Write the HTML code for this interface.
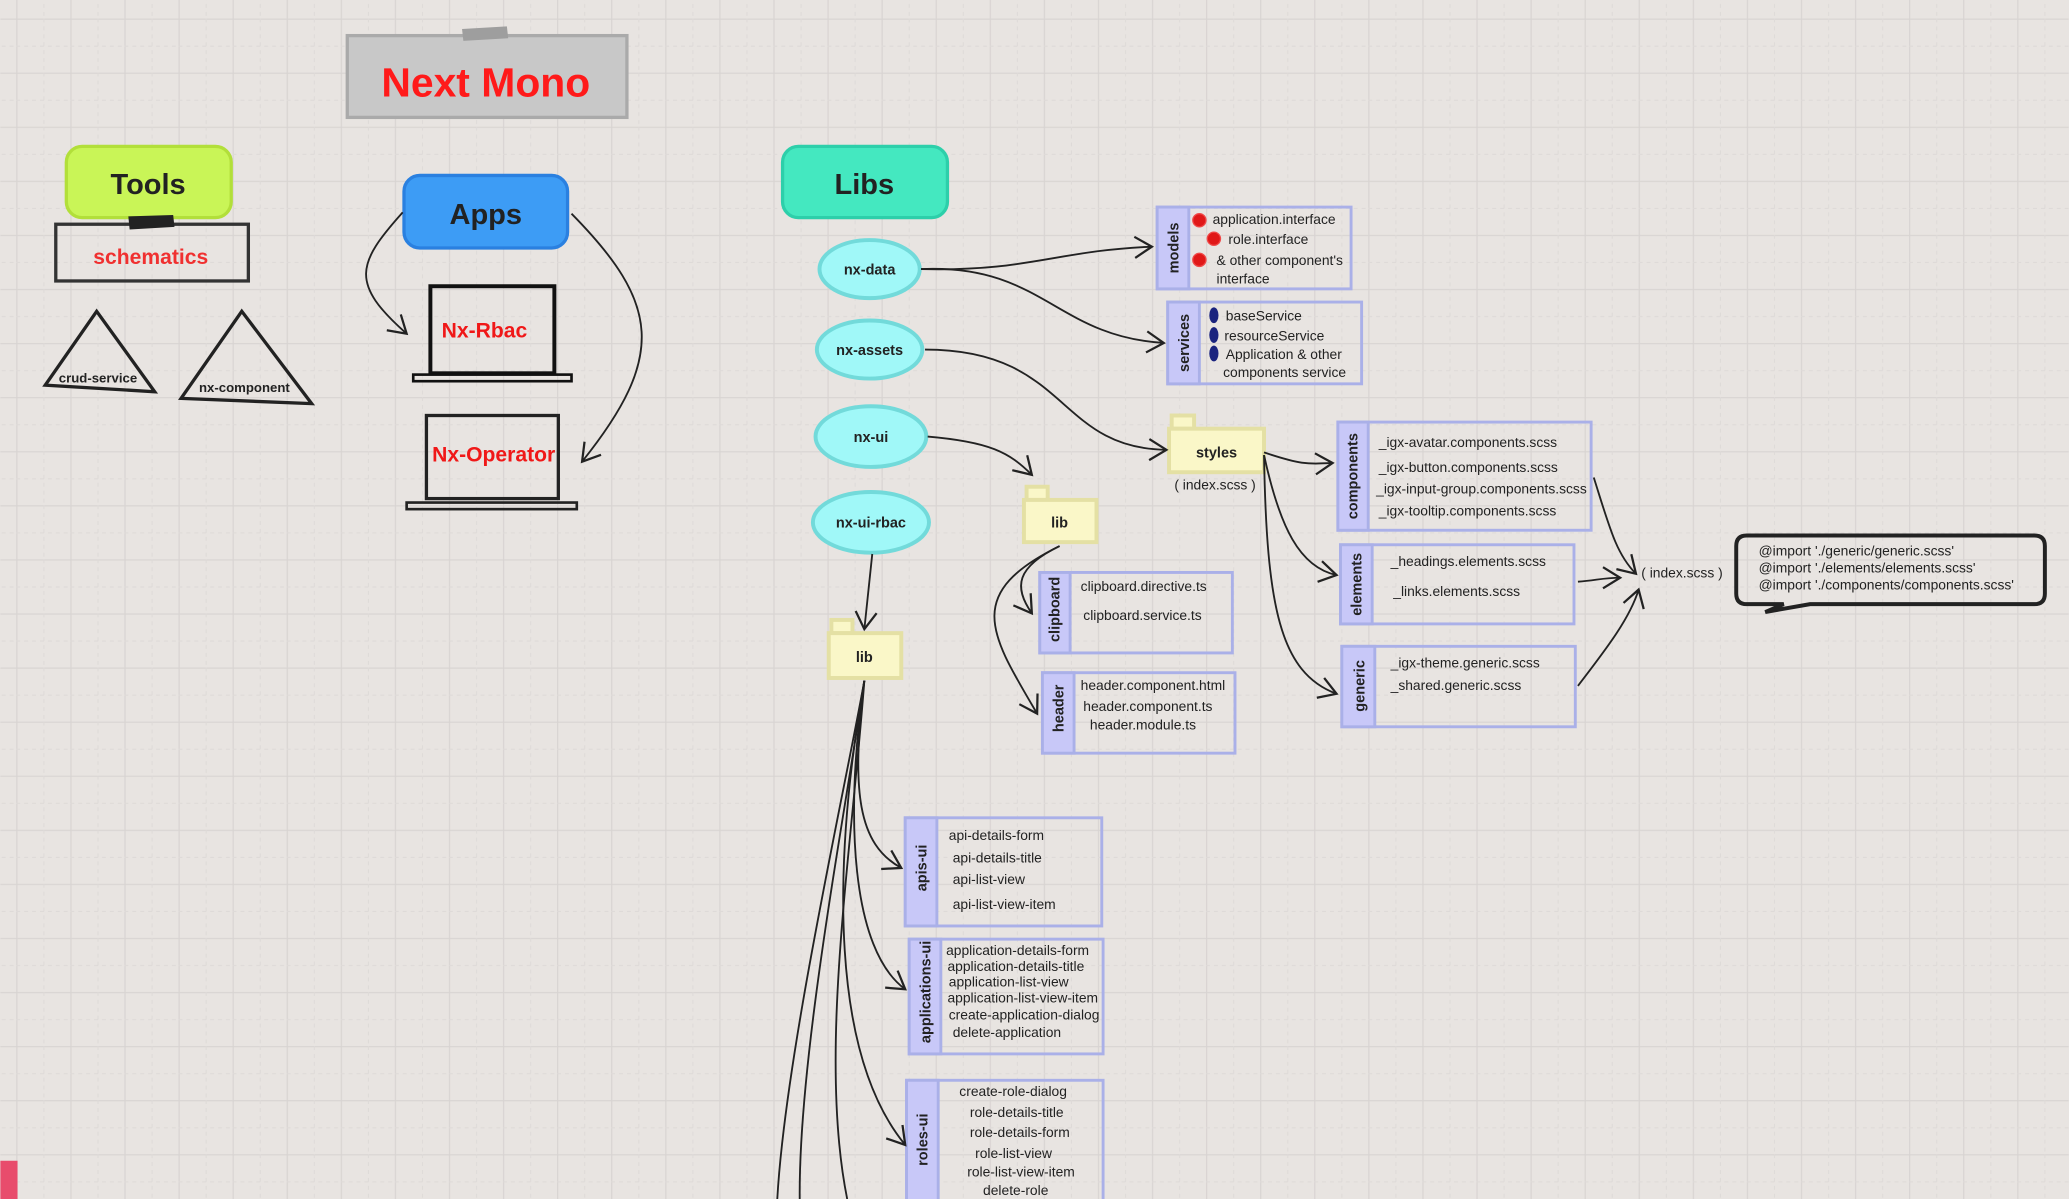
<!DOCTYPE html>
<html><head><meta charset="utf-8"><style>
html,body{margin:0;padding:0;background:#e8e4e1;}
svg{display:block;}
text{font-family:"Liberation Sans",sans-serif;fill:#222;}
</style></head><body>
<svg width="2069" height="1199" viewBox="0 0 1568 909" xmlns="http://www.w3.org/2000/svg">
<defs>
<pattern id="g" width="41" height="41" patternUnits="userSpaceOnUse" x="12" y="14">
<path d="M0 0.5H41M0.5 0V41" stroke="#d8d4d2" stroke-width="0.9" fill="none"/>
<path d="M0 21H41M21 0V41" stroke="#dedad8" stroke-width="0.8" stroke-dasharray="3 3" fill="none"/>
</pattern>
<marker id="a" markerWidth="18" markerHeight="18" refX="14" refY="9" orient="auto" markerUnits="userSpaceOnUse">
<path d="M1 1 L14 9 L1 17" fill="none" stroke="#222" stroke-width="1.7"/>
</marker>
</defs>
<rect width="1568" height="909" fill="#e8e4e1"/>
<rect width="1568" height="909" fill="url(#g)"/>

<!-- Next Mono -->
<rect x="263" y="27" width="212" height="62" fill="#c8c8c8" stroke="#aaa" stroke-width="2.5"/>
<path d="M350 22 L384 20 L385 29 L351 31Z" fill="#9e9e9e"/>
<text x="368" y="73" font-size="31" font-weight="bold" text-anchor="middle" style="fill:#ff1a1a">Next Mono</text>

<!-- Tools -->
<rect x="50" y="111" width="125" height="54" rx="12" fill="#c9f557" stroke="#b2df3a" stroke-width="2.5"/>
<text x="112" y="147" font-size="22" font-weight="bold" text-anchor="middle">Tools</text>
<rect x="42" y="170" width="146" height="43" fill="none" stroke="#333" stroke-width="2.5"/>
<path d="M97 164 L131 163 L132 172 L98 174Z" fill="#222"/>
<text x="114" y="200" font-size="16" font-weight="bold" text-anchor="middle" style="fill:#f03030">schematics</text>
<path d="M73 236 L34 292 L117 297 Z" fill="none" stroke="#222" stroke-width="2.5"/>
<text x="74" y="290" font-size="10" font-weight="bold" text-anchor="middle">crud-service</text>
<path d="M183 236 L137 302 L236 306 Z" fill="none" stroke="#222" stroke-width="2.5"/>
<text x="185" y="297" font-size="10" font-weight="bold" text-anchor="middle">nx-component</text>

<!-- Apps -->
<rect x="306" y="133" width="124" height="55" rx="12" fill="#3d9cf5" stroke="#2a80e0" stroke-width="2.5"/>
<text x="368" y="170" font-size="22" font-weight="bold" text-anchor="middle">Apps</text>
<rect x="326" y="217" width="94" height="66" fill="none" stroke="#111" stroke-width="3"/>
<rect x="313" y="284" width="120" height="5" fill="none" stroke="#111" stroke-width="2"/>
<text x="367" y="256" font-size="16" font-weight="bold" text-anchor="middle" style="fill:#f01818">Nx-Rbac</text>
<rect x="323" y="315" width="100" height="63" fill="none" stroke="#222" stroke-width="2.5"/>
<rect x="308" y="381" width="129" height="5" fill="none" stroke="#222" stroke-width="2"/>
<text x="374" y="350" font-size="16" font-weight="bold" text-anchor="middle" style="fill:#f01818">Nx-Operator</text>
<path d="M305 161 C270 200 265 215 308 253" fill="none" stroke="#222" stroke-width="1.4" marker-end="url(#a)"/>
<path d="M433 162 C500 230 505 270 441 350" fill="none" stroke="#222" stroke-width="1.4" marker-end="url(#a)"/>

<!-- Libs -->
<rect x="593" y="111" width="125" height="54" rx="12" fill="#44e8c0" stroke="#2dcfaa" stroke-width="2.5"/>
<text x="655" y="147" font-size="22" font-weight="bold" text-anchor="middle">Libs</text>
<g fill="#a0f8f8" stroke="#72dada" stroke-width="3">
<ellipse cx="659" cy="204" rx="38" ry="22"/>
<ellipse cx="659" cy="265" rx="40" ry="22"/>
<ellipse cx="660" cy="331" rx="42" ry="23"/>
<ellipse cx="660" cy="396" rx="44" ry="23"/>
</g>
<g font-size="11" font-weight="bold" text-anchor="middle">
<text x="659" y="208">nx-data</text>
<text x="659" y="269">nx-assets</text>
<text x="660" y="335">nx-ui</text>
<text x="660" y="400">nx-ui-rbac</text>
</g>

<!-- boxes -->
<g stroke="#aab0e8" stroke-width="2.2">
<rect x="877" y="157" width="147" height="62" fill="none"/><rect x="877" y="157" width="24" height="62" fill="#c8c8f8"/>
<rect x="885" y="229" width="147" height="62" fill="none"/><rect x="885" y="229" width="24" height="62" fill="#c8c8f8"/>
<rect x="1014" y="320" width="192" height="82" fill="none"/><rect x="1014" y="320" width="23" height="82" fill="#c8c8f8"/>
<rect x="1016" y="413" width="177" height="60" fill="none"/><rect x="1016" y="413" width="24" height="60" fill="#c8c8f8"/>
<rect x="1017" y="490" width="177" height="61" fill="none"/><rect x="1017" y="490" width="25" height="61" fill="#c8c8f8"/>
<rect x="788" y="434" width="146" height="61" fill="none"/><rect x="788" y="434" width="23" height="61" fill="#c8c8f8"/>
<rect x="790" y="510" width="146" height="61" fill="none"/><rect x="790" y="510" width="24" height="61" fill="#c8c8f8"/>
<rect x="686" y="620" width="149" height="82" fill="none"/><rect x="686" y="620" width="24" height="82" fill="#c8c8f8"/>
<rect x="689" y="712" width="147" height="87" fill="none"/><rect x="689" y="712" width="24" height="87" fill="#c8c8f8"/>
<rect x="687" y="819" width="149" height="100" fill="none"/><rect x="687" y="819" width="24" height="100" fill="#c8c8f8"/>
</g>
<g font-size="11" font-weight="bold" text-anchor="middle">
<text transform="translate(893,188) rotate(-90)">models</text>
<text transform="translate(901,260) rotate(-90)">services</text>
<text transform="translate(1029,361) rotate(-90)">components</text>
<text transform="translate(1032,443) rotate(-90)">elements</text>
<text transform="translate(1034,520) rotate(-90)">generic</text>
<text transform="translate(803,462) rotate(-90)">clipboard</text>
<text transform="translate(806,537) rotate(-90)">header</text>
<text transform="translate(702,658) rotate(-90)">apis-ui</text>
<text transform="translate(705,752) rotate(-90)">applications-ui</text>
<text transform="translate(703,864) rotate(-90)">roles-ui</text>
</g>
<g fill="#e01818" stroke="#f04848" stroke-width="1">
<circle cx="909" cy="167" r="5"/><circle cx="920" cy="181" r="5"/><circle cx="909" cy="197" r="5"/>
</g>
<g fill="#1a237e"><ellipse cx="920" cy="239" rx="3.5" ry="6"/><ellipse cx="920" cy="254" rx="3.5" ry="6"/><ellipse cx="920" cy="268" rx="3.5" ry="6"/></g>
<g font-size="10.5">
<text x="919" y="170">application.interface</text>
<text x="931" y="185">role.interface</text>
<text x="922" y="201">&amp; other component's</text>
<text x="922" y="215">interface</text>
<text x="929" y="243">baseService</text>
<text x="928" y="258">resourceService</text>
<text x="929" y="272">Application &amp; other</text>
<text x="927" y="286">components service</text>
<text x="1045" y="339">_igx-avatar.components.scss</text>
<text x="1045" y="358">_igx-button.components.scss</text>
<text x="1043" y="374">_igx-input-group.components.scss</text>
<text x="1045" y="391">_igx-tooltip.components.scss</text>
<text x="1054" y="429">_headings.elements.scss</text>
<text x="1056" y="452">_links.elements.scss</text>
<text x="1054" y="506">_igx-theme.generic.scss</text>
<text x="1054" y="523">_shared.generic.scss</text>
<text x="819" y="448">clipboard.directive.ts</text>
<text x="821" y="470">clipboard.service.ts</text>
<text x="819" y="523">header.component.html</text>
<text x="821" y="539">header.component.ts</text>
<text x="826" y="553">header.module.ts</text>
<text x="719" y="637">api-details-form</text>
<text x="722" y="654">api-details-title</text>
<text x="722" y="670">api-list-view</text>
<text x="722" y="689">api-list-view-item</text>
<text x="717" y="724">application-details-form</text>
<text x="718" y="736">application-details-title</text>
<text x="719" y="748">application-list-view</text>
<text x="718" y="760">application-list-view-item</text>
<text x="719" y="773">create-application-dialog</text>
<text x="722" y="786">delete-application</text>
<text x="727" y="831">create-role-dialog</text>
<text x="735" y="847">role-details-title</text>
<text x="735" y="862">role-details-form</text>
<text x="739" y="878">role-list-view</text>
<text x="733" y="892">role-list-view-item</text>
<text x="745" y="906">delete-role</text>
<text x="890" y="371">( index.scss )</text>
<text x="1244" y="438">( index.scss )</text>
<text x="1333" y="421">@import './generic/generic.scss'</text>
<text x="1333" y="434">@import './elements/elements.scss'</text>
<text x="1333" y="447">@import './components/components.scss'</text>
</g>

<!-- folders -->
<g fill="#faf7c8" stroke="#e4e0a4" stroke-width="3">
<rect x="888" y="315" width="17" height="10"/><rect x="886" y="325" width="72" height="33"/>
<rect x="778" y="369" width="16" height="10"/><rect x="776" y="379" width="55" height="32"/>
<rect x="630" y="470" width="16" height="10"/><rect x="628" y="480" width="55" height="34"/>
</g>
<g font-size="11" font-weight="bold" text-anchor="middle">
<text x="922" y="347">styles</text><text x="803" y="400">lib</text><text x="655" y="502">lib</text>
</g>

<!-- bubble -->
<path d="M1324 406 L1542 406 Q1550 406 1550 414 L1550 450 Q1550 458 1542 458 L1372 458 L1338 464 L1352 458 L1324 458 Q1316 458 1316 450 L1316 414 Q1316 406 1324 406 Z" fill="none" stroke="#222" stroke-width="3"/>

<!-- connectors -->
<g fill="none" stroke="#222" stroke-width="1.4">
<path d="M698 204 C780 206 800 190 873 187" marker-end="url(#a)"/>
<path d="M698 204 C790 200 800 255 882 260" marker-end="url(#a)"/>
<path d="M701 265 C810 265 800 340 884 341" marker-end="url(#a)"/>
<path d="M703 331 C750 335 765 343 782 360" marker-end="url(#a)"/>
<path d="M661 420 L655 477" marker-end="url(#a)"/>
<path d="M803 414 C770 430 768 445 782 465" marker-end="url(#a)"/>
<path d="M803 414 C730 450 750 480 786 541" marker-end="url(#a)"/>
<path d="M958 343 C985 352 990 352 1010 351" marker-end="url(#a)"/>
<path d="M958 345 C970 400 985 430 1013 436" marker-end="url(#a)"/>
<path d="M958 345 C960 460 970 510 1013 526" marker-end="url(#a)"/>
<path d="M1208 362 C1220 400 1225 420 1240 435" marker-end="url(#a)"/>
<path d="M1196 441 C1210 440 1215 438 1228 438" marker-end="url(#a)"/>
<path d="M1196 520 C1215 495 1235 470 1242 447" marker-end="url(#a)"/>
<path d="M655 516 C645 600 650 640 683 658" marker-end="url(#a)"/>
<path d="M655 516 C640 620 645 720 686 750" marker-end="url(#a)"/>
<path d="M655 516 C630 660 630 800 686 868" marker-end="url(#a)"/>
<path d="M655 516 C640 600 595 800 589 909"/>
<path d="M655 516 C640 620 605 800 606 909"/>
<path d="M655 516 C645 650 620 800 642 909"/>
</g>
<rect x="0" y="880" width="13" height="29" fill="#e84c6c"/>
</svg>
</body></html>
